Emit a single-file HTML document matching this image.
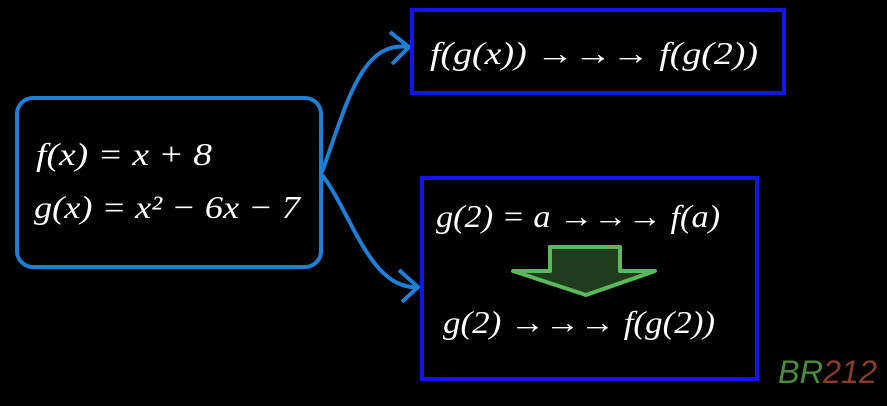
<!DOCTYPE html>
<html><head><meta charset="utf-8"><style>
html,body{margin:0;padding:0;background:#000;}
svg{display:block;}
text{font-family:"Liberation Serif",serif;fill:#fff;font-size:32px;}
.i{font-style:italic;}
</style></head><body>
<svg width="887" height="406" viewBox="0 0 887 406" xmlns="http://www.w3.org/2000/svg">
<rect width="887" height="406" fill="#000"/>
<rect x="17" y="98" width="304" height="169" rx="16" fill="none" stroke="#1e7fd6" stroke-width="4"/>
<path d="M322,172 C345,110 360,40 408,47" fill="none" stroke="#1e7fd6" stroke-width="4"/>
<path d="M390,32 L409,47 L392,64" fill="none" stroke="#1e7fd6" stroke-width="4"/>
<path d="M322,175 C350,210 370,290 417,287" fill="none" stroke="#1e7fd6" stroke-width="4"/>
<path d="M399,270 L418,287 L402,302" fill="none" stroke="#1e7fd6" stroke-width="4"/>
<rect x="412" y="10" width="372" height="83" fill="none" stroke="#1414f0" stroke-width="4"/>
<rect x="422" y="178" width="335" height="201" fill="none" stroke="#1414f0" stroke-width="4"/>
<polygon points="550,247 620,247 620,271 655,271 586,295 513,271 550,271" fill="#1f3d1c" stroke="#5cb85c" stroke-width="4" stroke-linejoin="round"/>
<text x="36" y="165" class="i" textLength="176" lengthAdjust="spacingAndGlyphs">f(x) = x + 8</text>
<text x="34" y="218" class="i" textLength="266" lengthAdjust="spacingAndGlyphs">g(x) = x² − 6x − 7</text>
<text x="430" y="64" class="i" textLength="328" lengthAdjust="spacingAndGlyphs">f(g(x)) →→→ f(g(2))</text>
<text x="436" y="227" class="i" textLength="284" lengthAdjust="spacingAndGlyphs">g(2) = a →→→ f(a)</text>
<text x="443" y="333" class="i" textLength="272" lengthAdjust="spacingAndGlyphs">g(2) →→→ f(g(2))</text>
<text x="778" y="383" class="i" style="font-family:'Liberation Sans',sans-serif;font-size:32px;" textLength="99" lengthAdjust="spacingAndGlyphs"><tspan fill="#4a8c3c">BR</tspan><tspan fill="#8a3b2a">212</tspan></text>
</svg>
</body></html>
